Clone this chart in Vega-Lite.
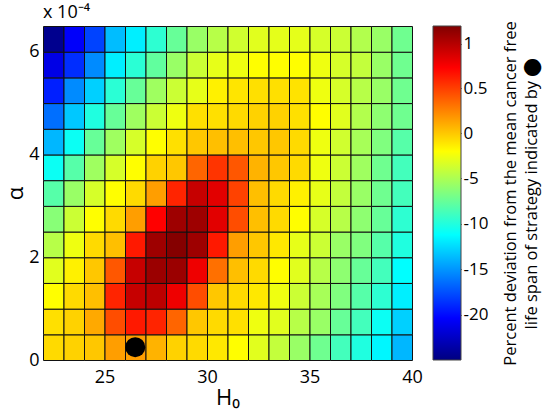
{
 "$schema": "https://vega.github.io/schema/vega-lite/v6.json",
 "padding": {"left": 4, "top": 4, "right": 2, "bottom": 2},
 "bounds": "flush",
 "spacing": 21,
 "config": {"font": "Open Sans", "view": {"stroke": null}},
 "datasets": {
  "grid": [
   {"H0":22,"alpha":0,"dev":-0.7},{"H0":23,"alpha":0,"dev":-0.4},{"H0":24,"alpha":0,"dev":0},{"H0":25,"alpha":0,"dev":0.15},{"H0":26,"alpha":0,"dev":0.15},{"H0":27,"alpha":0,"dev":0.075},{"H0":28,"alpha":0,"dev":-0.4},{"H0":29,"alpha":0,"dev":-0.7},{"H0":30,"alpha":0,"dev":-1.2},{"H0":31,"alpha":0,"dev":-2.0},{"H0":32,"alpha":0,"dev":-3.1},{"H0":33,"alpha":0,"dev":-4.2},{"H0":34,"alpha":0,"dev":-5.7},{"H0":35,"alpha":0,"dev":-7.2},{"H0":36,"alpha":0,"dev":-8.8},{"H0":37,"alpha":0,"dev":-10.1},{"H0":38,"alpha":0,"dev":-11.5},{"H0":39,"alpha":0,"dev":-13.8},
   {"H0":22,"alpha":0.00005,"dev":-0.9},{"H0":23,"alpha":0.00005,"dev":-0.4},{"H0":24,"alpha":0.00005,"dev":0.11},{"H0":25,"alpha":0.00005,"dev":0.45},{"H0":26,"alpha":0.00005,"dev":0.64},{"H0":27,"alpha":0.00005,"dev":0.6},{"H0":28,"alpha":0.00005,"dev":0.36},{"H0":29,"alpha":0.00005,"dev":0},{"H0":30,"alpha":0.00005,"dev":-0.7},{"H0":31,"alpha":0.00005,"dev":-0.9},{"H0":32,"alpha":0.00005,"dev":-2.6},{"H0":33,"alpha":0.00005,"dev":-3.1},{"H0":34,"alpha":0.00005,"dev":-4.6},{"H0":35,"alpha":0.00005,"dev":-5.7},{"H0":36,"alpha":0.00005,"dev":-7.5},{"H0":37,"alpha":0.00005,"dev":-8.8},{"H0":38,"alpha":0.00005,"dev":-10.8},{"H0":39,"alpha":0.00005,"dev":-12.9},
   {"H0":22,"alpha":0.0001,"dev":-2.0},{"H0":23,"alpha":0.0001,"dev":-0.7},{"H0":24,"alpha":0.0001,"dev":0.03},{"H0":25,"alpha":0.0001,"dev":0.6},{"H0":26,"alpha":0.0001,"dev":0.94},{"H0":27,"alpha":0.0001,"dev":0.98},{"H0":28,"alpha":0.0001,"dev":0.79},{"H0":29,"alpha":0.0001,"dev":0.45},{"H0":30,"alpha":0.0001,"dev":0},{"H0":31,"alpha":0.0001,"dev":-0.7},{"H0":32,"alpha":0.0001,"dev":-1.2},{"H0":33,"alpha":0.0001,"dev":-2.6},{"H0":34,"alpha":0.0001,"dev":-3.9},{"H0":35,"alpha":0.0001,"dev":-5.2},{"H0":36,"alpha":0.0001,"dev":-6.6},{"H0":37,"alpha":0.0001,"dev":-8.1},{"H0":38,"alpha":0.0001,"dev":-9.6},{"H0":39,"alpha":0.0001,"dev":-11.8},
   {"H0":22,"alpha":0.00015,"dev":-3.1},{"H0":23,"alpha":0.00015,"dev":-1.5},{"H0":24,"alpha":0.00015,"dev":0},{"H0":25,"alpha":0.00015,"dev":0.41},{"H0":26,"alpha":0.00015,"dev":0.94},{"H0":27,"alpha":0.00015,"dev":1.1},{"H0":28,"alpha":0.00015,"dev":1.1},{"H0":29,"alpha":0.00015,"dev":0.79},{"H0":30,"alpha":0.00015,"dev":0.32},{"H0":31,"alpha":0.00015,"dev":0.03},{"H0":32,"alpha":0.00015,"dev":-0.7},{"H0":33,"alpha":0.00015,"dev":-2.0},{"H0":34,"alpha":0.00015,"dev":-3.1},{"H0":35,"alpha":0.00015,"dev":-4.6},{"H0":36,"alpha":0.00015,"dev":-6.1},{"H0":37,"alpha":0.00015,"dev":-7.5},{"H0":38,"alpha":0.00015,"dev":-8.8},{"H0":39,"alpha":0.00015,"dev":-11.2},
   {"H0":22,"alpha":0.0002,"dev":-4.6},{"H0":23,"alpha":0.0002,"dev":-2.6},{"H0":24,"alpha":0.0002,"dev":-0.7},{"H0":25,"alpha":0.0002,"dev":0.03},{"H0":26,"alpha":0.0002,"dev":0.64},{"H0":27,"alpha":0.0002,"dev":1.09},{"H0":28,"alpha":0.0002,"dev":1.18},{"H0":29,"alpha":0.0002,"dev":1.09},{"H0":30,"alpha":0.0002,"dev":0.64},{"H0":31,"alpha":0.0002,"dev":0.15},{"H0":32,"alpha":0.0002,"dev":0},{"H0":33,"alpha":0.0002,"dev":-1.2},{"H0":34,"alpha":0.0002,"dev":-2.9},{"H0":35,"alpha":0.0002,"dev":-3.9},{"H0":36,"alpha":0.0002,"dev":-5.7},{"H0":37,"alpha":0.0002,"dev":-6.6},{"H0":38,"alpha":0.0002,"dev":-8.1},{"H0":39,"alpha":0.0002,"dev":-10.1},
   {"H0":22,"alpha":0.00025,"dev":-6.3},{"H0":23,"alpha":0.00025,"dev":-3.9},{"H0":24,"alpha":0.00025,"dev":-2.0},{"H0":25,"alpha":0.00025,"dev":-0.7},{"H0":26,"alpha":0.00025,"dev":0.15},{"H0":27,"alpha":0.00025,"dev":0.73},{"H0":28,"alpha":0.00025,"dev":1.09},{"H0":29,"alpha":0.00025,"dev":1.09},{"H0":30,"alpha":0.00025,"dev":0.84},{"H0":31,"alpha":0.00025,"dev":0.45},{"H0":32,"alpha":0.00025,"dev":0.03},{"H0":33,"alpha":0.00025,"dev":-0.7},{"H0":34,"alpha":0.00025,"dev":-2.0},{"H0":35,"alpha":0.00025,"dev":-3.5},{"H0":36,"alpha":0.00025,"dev":-4.6},{"H0":37,"alpha":0.00025,"dev":-6.1},{"H0":38,"alpha":0.00025,"dev":-7.5},{"H0":39,"alpha":0.00025,"dev":-9.6},
   {"H0":22,"alpha":0.0003,"dev":-8.1},{"H0":23,"alpha":0.0003,"dev":-5.7},{"H0":24,"alpha":0.0003,"dev":-3.5},{"H0":25,"alpha":0.0003,"dev":-2.0},{"H0":26,"alpha":0.0003,"dev":-0.7},{"H0":27,"alpha":0.0003,"dev":0.15},{"H0":28,"alpha":0.0003,"dev":0.6},{"H0":29,"alpha":0.0003,"dev":0.94},{"H0":30,"alpha":0.0003,"dev":0.84},{"H0":31,"alpha":0.0003,"dev":0.49},{"H0":32,"alpha":0.0003,"dev":0.03},{"H0":33,"alpha":0.0003,"dev":-0.7},{"H0":34,"alpha":0.0003,"dev":-1.5},{"H0":35,"alpha":0.0003,"dev":-2.9},{"H0":36,"alpha":0.0003,"dev":-4.2},{"H0":37,"alpha":0.0003,"dev":-5.7},{"H0":38,"alpha":0.0003,"dev":-7.2},{"H0":39,"alpha":0.0003,"dev":-8.8},
   {"H0":22,"alpha":0.00035,"dev":-10.8},{"H0":23,"alpha":0.00035,"dev":-8.1},{"H0":24,"alpha":0.00035,"dev":-5.5},{"H0":25,"alpha":0.00035,"dev":-3.5},{"H0":26,"alpha":0.00035,"dev":-2.0},{"H0":27,"alpha":0.00035,"dev":-0.4},{"H0":28,"alpha":0.00035,"dev":0},{"H0":29,"alpha":0.00035,"dev":0.36},{"H0":30,"alpha":0.00035,"dev":0.54},{"H0":31,"alpha":0.00035,"dev":0.41},{"H0":32,"alpha":0.00035,"dev":0.075},{"H0":33,"alpha":0.00035,"dev":0},{"H0":34,"alpha":0.00035,"dev":-0.7},{"H0":35,"alpha":0.00035,"dev":-2.6},{"H0":36,"alpha":0.00035,"dev":-3.9},{"H0":37,"alpha":0.00035,"dev":-5.5},{"H0":38,"alpha":0.00035,"dev":-7.2},{"H0":39,"alpha":0.00035,"dev":-8.8},
   {"H0":22,"alpha":0.0004,"dev":-13.8},{"H0":23,"alpha":0.0004,"dev":-10.8},{"H0":24,"alpha":0.0004,"dev":-7.5},{"H0":25,"alpha":0.0004,"dev":-5.5},{"H0":26,"alpha":0.0004,"dev":-3.5},{"H0":27,"alpha":0.0004,"dev":-2.0},{"H0":28,"alpha":0.0004,"dev":-0.9},{"H0":29,"alpha":0.0004,"dev":0},{"H0":30,"alpha":0.0004,"dev":0.03},{"H0":31,"alpha":0.0004,"dev":0.03},{"H0":32,"alpha":0.0004,"dev":0},{"H0":33,"alpha":0.0004,"dev":0},{"H0":34,"alpha":0.0004,"dev":-0.7},{"H0":35,"alpha":0.0004,"dev":-2.6},{"H0":36,"alpha":0.0004,"dev":-3.7},{"H0":37,"alpha":0.0004,"dev":-5.2},{"H0":38,"alpha":0.0004,"dev":-6.6},{"H0":39,"alpha":0.0004,"dev":-8.1},
   {"H0":22,"alpha":0.00045,"dev":-16.4},{"H0":23,"alpha":0.00045,"dev":-13.2},{"H0":24,"alpha":0.00045,"dev":-10.1},{"H0":25,"alpha":0.00045,"dev":-7.5},{"H0":26,"alpha":0.00045,"dev":-5.5},{"H0":27,"alpha":0.00045,"dev":-3.9},{"H0":28,"alpha":0.00045,"dev":-2.6},{"H0":29,"alpha":0.00045,"dev":-0.9},{"H0":30,"alpha":0.00045,"dev":-0.9},{"H0":31,"alpha":0.00045,"dev":-0.7},{"H0":32,"alpha":0.00045,"dev":-0.4},{"H0":33,"alpha":0.00045,"dev":-0.4},{"H0":34,"alpha":0.00045,"dev":-0.9},{"H0":35,"alpha":0.00045,"dev":-2.0},{"H0":36,"alpha":0.00045,"dev":-3.1},{"H0":37,"alpha":0.00045,"dev":-4.8},{"H0":38,"alpha":0.00045,"dev":-6.1},{"H0":39,"alpha":0.00045,"dev":-7.2},
   {"H0":22,"alpha":0.0005,"dev":-19.3},{"H0":23,"alpha":0.0005,"dev":-15.4},{"H0":24,"alpha":0.0005,"dev":-12.9},{"H0":25,"alpha":0.0005,"dev":-9.7},{"H0":26,"alpha":0.0005,"dev":-7.5},{"H0":27,"alpha":0.0005,"dev":-5.5},{"H0":28,"alpha":0.0005,"dev":-3.9},{"H0":29,"alpha":0.0005,"dev":-2.9},{"H0":30,"alpha":0.0005,"dev":-1.5},{"H0":31,"alpha":0.0005,"dev":-1.1},{"H0":32,"alpha":0.0005,"dev":-0.9},{"H0":33,"alpha":0.0005,"dev":-0.9},{"H0":34,"alpha":0.0005,"dev":-1.0},{"H0":35,"alpha":0.0005,"dev":-2.6},{"H0":36,"alpha":0.0005,"dev":-3.5},{"H0":37,"alpha":0.0005,"dev":-4.6},{"H0":38,"alpha":0.0005,"dev":-5.7},{"H0":39,"alpha":0.0005,"dev":-7.2},
   {"H0":22,"alpha":0.00055,"dev":-21.3},{"H0":23,"alpha":0.00055,"dev":-18.8},{"H0":24,"alpha":0.00055,"dev":-15.4},{"H0":25,"alpha":0.00055,"dev":-11.8},{"H0":26,"alpha":0.00055,"dev":-9.7},{"H0":27,"alpha":0.00055,"dev":-7.7},{"H0":28,"alpha":0.00055,"dev":-5.7},{"H0":29,"alpha":0.00055,"dev":-3.9},{"H0":30,"alpha":0.00055,"dev":-2.9},{"H0":31,"alpha":0.00055,"dev":-2.6},{"H0":32,"alpha":0.00055,"dev":-2.0},{"H0":33,"alpha":0.00055,"dev":-2.0},{"H0":34,"alpha":0.00055,"dev":-2.0},{"H0":35,"alpha":0.00055,"dev":-2.6},{"H0":36,"alpha":0.00055,"dev":-3.5},{"H0":37,"alpha":0.00055,"dev":-4.2},{"H0":38,"alpha":0.00055,"dev":-5.7},{"H0":39,"alpha":0.00055,"dev":-7.2},
   {"H0":22,"alpha":0.0006,"dev":-24.5},{"H0":23,"alpha":0.0006,"dev":-20.6},{"H0":24,"alpha":0.0006,"dev":-18.0},{"H0":25,"alpha":0.0006,"dev":-13.6},{"H0":26,"alpha":0.0006,"dev":-11.8},{"H0":27,"alpha":0.0006,"dev":-9.6},{"H0":28,"alpha":0.0006,"dev":-7.5},{"H0":29,"alpha":0.0006,"dev":-5.7},{"H0":30,"alpha":0.0006,"dev":-4.6},{"H0":31,"alpha":0.0006,"dev":-3.7},{"H0":32,"alpha":0.0006,"dev":-3.1},{"H0":33,"alpha":0.0006,"dev":-2.95},{"H0":34,"alpha":0.0006,"dev":-2.95},{"H0":35,"alpha":0.0006,"dev":-3.5},{"H0":36,"alpha":0.0006,"dev":-3.9},{"H0":37,"alpha":0.0006,"dev":-4.8},{"H0":38,"alpha":0.0006,"dev":-5.7},{"H0":39,"alpha":0.0006,"dev":-7.2}
  ],
  "strategy": [{"H0": 26.5, "alpha": 0.000025}],
  "bar": [{"low": -25, "high": 1.2}]
 },
 "hconcat": [
  {
   "width": 369,
   "height": 334,
   "title": {"text": "x 10⁻⁴", "anchor": "start", "frame": "group", "fontSize": 18, "fontWeight": "normal", "offset": 4, "color": "black"},
   "layer": [
    {
     "data": {"name": "grid"},
     "mark": {"type": "rect", "stroke": "#111111", "strokeWidth": 1},
     "encoding": {
      "x": {"field": "H0", "type": "quantitative", "bin": {"binned": true, "step": 1},
            "scale": {"domain": [22, 40], "nice": false, "zero": false},
            "axis": {"title": "H₀", "values": [25, 30, 35, 40], "labelFontSize": 18, "titleFontSize": 22, "titleFontWeight": "normal", "ticks": false, "domain": false, "grid": false, "labelPadding": 8, "titlePadding": 1, "labelFlush": false, "labelColor": "black", "titleColor": "black"}},
      "y": {"field": "alpha", "type": "quantitative", "bin": {"binned": true, "step": 0.00005},
            "scale": {"domain": [0, 0.00065], "nice": false, "zero": false},
            "axis": {"title": "α", "values": [0, 0.0002, 0.0004, 0.0006], "labelExpr": "format(datum.value*10000, 'd')", "labelFontSize": 18, "titleFontSize": 22, "titleFontWeight": "normal", "ticks": false, "domain": false, "grid": false, "labelPadding": 4, "titlePadding": 1, "labelFlush": false, "labelColor": "black", "titleColor": "black"}},
      "color": {"field": "dev", "type": "quantitative", "legend": null,
                "scale": {"domain": [-25, -20.404, -11.213, -2.022, 0, 0.73125, 1.2],
                          "range": ["#000080", "#0000ff", "#00ffff", "#ffff00", "#ffc700", "#ff0000", "#800000"],
                          "interpolate": "rgb", "clamp": true}}
     }
    },
    {
     "data": {"name": "strategy"},
     "mark": {"type": "point", "shape": "circle", "filled": true, "color": "black", "size": 400, "opacity": 1},
     "encoding": {
      "x": {"field": "H0", "type": "quantitative"},
      "y": {"field": "alpha", "type": "quantitative"}
     }
    }
   ]
  },
  {
   "width": 28,
   "height": 334,
   "data": {"name": "bar"},
   "mark": {"type": "rect", "stroke": "#444444", "strokeWidth": 1,
            "color": {"gradient": "linear", "x1": 0, "y1": 1, "x2": 0, "y2": 0,
                      "stops": [{"offset": 0, "color": "#000080"}, {"offset": 0.125, "color": "#0000ff"}, {"offset": 0.375, "color": "#00ffff"}, {"offset": 0.625, "color": "#ffff00"}, {"offset": 0.875, "color": "#ff0000"}, {"offset": 1, "color": "#800000"}]}},
   "encoding": {
    "y": {"field": "low", "type": "quantitative",
          "scale": {"domain": [-25, 0, 1.2], "range": [334, 107, 0], "nice": false, "zero": false},
          "axis": {"orient": "right", "values": [1, 0.5, 0, -5, -10, -15, -20], "labelExpr": "'' + datum.value", "labelFontSize": 17, "labelColor": "black", "tickSize": -4, "tickColor": "black", "labelPadding": 6, "domain": false, "grid": false, "labelFlush": false,
                   "title": ["Percent deviation from the mean cancer free", "life span of strategy  indicated by ⬤"], "titleFontSize": 16.5, "titleFontWeight": "normal", "titleColor": "black", "titleAngle": 270, "titlePadding": 10, "titleLineHeight": 21}},
    "y2": {"field": "high"}
   }
  }
 ]
}
